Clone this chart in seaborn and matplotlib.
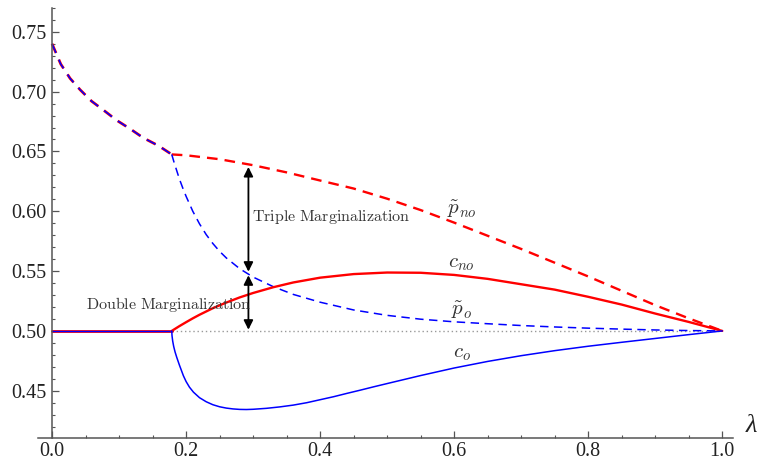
import numpy as np
import pandas as pd
import matplotlib
matplotlib.use("Agg")
import matplotlib.pyplot as plt
import seaborn as sns
from matplotlib.ticker import MultipleLocator, FormatStrFormatter

sns.set_theme(style="white")
plt.rcParams['font.family'] = ['Liberation Serif', 'DejaVu Serif']
plt.rcParams['mathtext.fontset'] = 'cm'

# ---- data ----
kink = 0.1786

# common segment before the kink
lam_pre = [0.0, 0.013, 0.027, 0.042, 0.059, 0.078, 0.0965, 0.117, 0.136, 0.159, kink]
p_pre = [0.740, 0.723, 0.711, 0.7015, 0.692, 0.684, 0.676, 0.6687, 0.6614, 0.6547, 0.6475]
lam_flat = [0.0, kink]
c_flat = [0.5, 0.5]

# p~_no (red dashed)
lam_pno = [kink, 0.2, 0.25, 0.3, 0.35, 0.4, 0.45, 0.5, 0.55, 0.6, 0.65, 0.7, 0.75, 0.8, 0.85, 0.9, 0.95, 1.0]
p_no = [0.6475, 0.6468, 0.6435, 0.6385, 0.6325, 0.6257, 0.619, 0.6105, 0.601, 0.5905, 0.5795, 0.5685, 0.557, 0.5455, 0.5335, 0.5215, 0.5105, 0.5]

# p~_o (blue dashed)
lam_po = [kink, 0.182, 0.186, 0.19, 0.195, 0.2, 0.21, 0.22, 0.23, 0.24, 0.25, 0.26, 0.28, 0.3, 0.33,
          0.36, 0.4, 0.45, 0.5, 0.55, 0.6, 0.65, 0.7, 0.75, 0.8, 0.85, 0.9, 0.95, 1.0]
p_o = [0.6475, 0.641, 0.634, 0.627, 0.6195, 0.6125, 0.600, 0.5895, 0.5805, 0.573, 0.5665, 0.561, 0.552, 0.545, 0.537,
       0.5305, 0.524, 0.5175, 0.513, 0.5098, 0.5076, 0.506, 0.5045, 0.5033, 0.5023, 0.5015, 0.5008, 0.5003, 0.5]

# c_no (red solid)
lam_cno = [kink, 0.19, 0.2, 0.21, 0.22, 0.24, 0.26, 0.28, 0.3, 0.33, 0.36, 0.4, 0.45, 0.5, 0.55, 0.6,
           0.65, 0.7, 0.75, 0.8, 0.85, 0.9, 0.95, 1.0]
c_no = [0.5, 0.504, 0.5073, 0.5105, 0.5135, 0.519, 0.5237, 0.528, 0.5317, 0.5365, 0.5405, 0.5445, 0.5475, 0.5488,
        0.5486, 0.5468, 0.5435, 0.539, 0.5345, 0.5285, 0.522, 0.5145, 0.5075, 0.5]

# c_o (blue solid)
lam_co = [kink, 0.179, 0.18, 0.1815, 0.1835, 0.186, 0.19, 0.196, 0.2, 0.205, 0.211, 0.22, 0.23, 0.24, 0.25,
          0.26, 0.27, 0.28, 0.29, 0.3, 0.32, 0.34, 0.36, 0.38, 0.4, 0.42, 0.44, 0.46, 0.48, 0.5, 0.55, 0.6,
          0.65, 0.7, 0.75, 0.8, 0.85, 0.9, 0.95, 1.0]
c_o = [0.5, 0.496, 0.4915, 0.487, 0.4825, 0.478, 0.4715, 0.4625, 0.4577, 0.453, 0.4488, 0.4442, 0.4408, 0.4383, 0.4366,
       0.4355, 0.4348, 0.4344, 0.4343, 0.4345, 0.4353, 0.4365, 0.438, 0.44, 0.4425, 0.445, 0.4478, 0.4505, 0.4533,
       0.456, 0.4627, 0.469, 0.4745, 0.4793, 0.4835, 0.4872, 0.4905, 0.4937, 0.4969, 0.5]

# reference line
lam_ref = [kink, 1.0]
ref = [0.5, 0.5]

# arrows (lambda position and the values they span)
arrow_lam = 0.293
triple_span = (0.5495, 0.637)
double_span = (0.501, 0.5465)

x_ticks = [0.0, 0.2, 0.4, 0.6, 0.8, 1.0]
y_ticks = [0.45, 0.50, 0.55, 0.60, 0.65, 0.70, 0.75]

# ---- figure ----
fig = plt.figure(figsize=(7.61, 4.63), dpi=100)
ax = fig.add_axes([0.0499, 0.054, 0.9133, 0.929])

RED = '#ff0000'
BLUE = '#0000ff'

sns.lineplot(x=lam_ref, y=ref, ax=ax, color='#999999', lw=1.0, linestyle=(0, (1, 2)))
sns.lineplot(x=lam_flat, y=c_flat, ax=ax, color=RED, lw=2.0)
sns.lineplot(x=lam_flat, y=c_flat, ax=ax, color=BLUE, lw=1.0)
sns.lineplot(x=lam_pre, y=p_pre, ax=ax, color=RED, lw=2.0, linestyle=(0, (3.6, 2.6)))
sns.lineplot(x=lam_pre, y=p_pre, ax=ax, color=BLUE, lw=1.1, linestyle=(0, (6.55, 4.73)))
sns.lineplot(x=lam_pno, y=p_no, ax=ax, color=RED, lw=1.7, linestyle=(0, (4.5, 3.0)))
sns.lineplot(x=lam_po, y=p_o, ax=ax, color=BLUE, lw=1.1, linestyle=(0, (5.5, 3.6)))
sns.lineplot(x=lam_cno, y=c_no, ax=ax, color=RED, lw=1.7)
sns.lineplot(x=lam_co, y=c_o, ax=ax, color=BLUE, lw=1.1)

# arrows
for lo, hi in (triple_span, double_span):
    ax.annotate('', xy=(arrow_lam, hi), xytext=(arrow_lam, lo),
                arrowprops=dict(arrowstyle='<|-|>,head_length=0.5,head_width=0.25', color='black', lw=1.3,
                                mutation_scale=11, shrinkA=0, shrinkB=0))

txt_col = '#333333'
ax.text(0.298, 0.595, r'$\mathrm{Triple\ Marginalization}$', fontsize=11.5,
        color=txt_col, ha='left', va='center')
ax.text(0.051, 0.5217, r'$\mathrm{Double\ Marginalization}$', fontsize=11.5,
        color=txt_col, ha='left', va='center')

ax.text(0.611, 0.602, r'$\tilde{p}_{no}$', fontsize=15, color=txt_col, ha='center', va='center')
ax.text(0.611, 0.556, r'$c_{no}$', fontsize=15, color=txt_col, ha='center', va='center')
ax.text(0.611, 0.517, r'$\tilde{p}_{o}$', fontsize=15, color=txt_col, ha='center', va='center')
ax.text(0.611, 0.481, r'$c_{o}$', fontsize=15, color=txt_col, ha='center', va='center')

ax.text(1.044, 0.4205, 'λ', fontsize=19, style='italic', color='#222222',
        ha='center', va='center', clip_on=False)

# ---- axes styling ----
ax.set_xlim(-0.021, 1.016)
ax.set_ylim(0.4105, 0.77)
ax.set_facecolor('white')
for s in ('top', 'right'):
    ax.spines[s].set_visible(False)
ax.spines['left'].set_position(('data', 0.0))
spine_col = '#555555'
for s in ('left', 'bottom'):
    ax.spines[s].set_color(spine_col)
    ax.spines[s].set_linewidth(1.1)

ax.set_xticks(x_ticks)
ax.set_yticks(y_ticks)
ax.xaxis.set_major_formatter(FormatStrFormatter('%.1f'))
ax.yaxis.set_major_formatter(FormatStrFormatter('%.2f'))
ax.xaxis.set_minor_locator(MultipleLocator(0.05))
ax.yaxis.set_minor_locator(MultipleLocator(0.01))
ax.tick_params(which='major', direction='in', length=5, width=0.9, color=spine_col,
               labelsize=14.5, labelcolor='#222222')
ax.tick_params(which='minor', direction='in', length=2.5, width=0.8, color=spine_col)
ax.tick_params(axis='y', which='both', left=True, pad=4)
ax.tick_params(axis='x', which='both', bottom=True, pad=3)
ax.set_xlabel('')
ax.set_ylabel('')
ax.grid(False)

fig.savefig('out.png', dpi=100)
